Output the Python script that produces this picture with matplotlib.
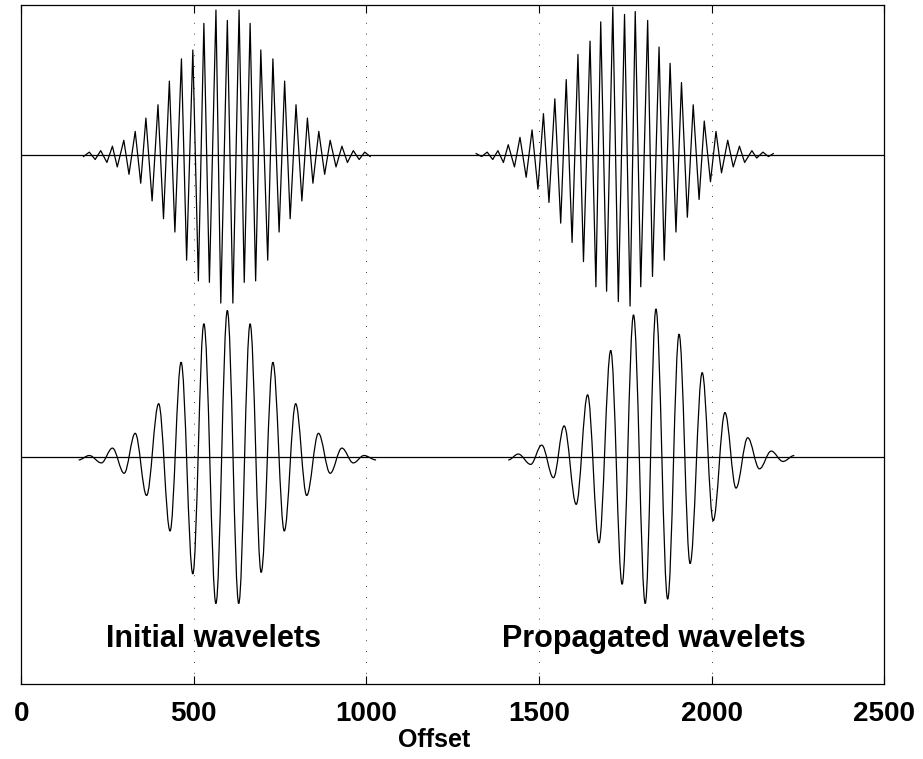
import numpy as np
import matplotlib.pyplot as plt
from matplotlib.path import Path
from matplotlib.patches import PathPatch

plt.rcParams['font.family'] = ['Liberation Sans', 'DejaVu Sans']

# Extrema (offset, amplitude), peaks and troughs in order
# Upper trace: high frequency wavelets
hi_init_x = [180, 197, 214, 230, 248, 264, 278, 297, 312, 330, 346, 361, 379, 396,
             412, 429, 445, 464, 479, 497, 513, 529, 545, 564, 578, 597, 613, 631,
             646, 663, 679, 694, 714, 729, 747, 763, 779, 796, 813, 829, 845, 862,
             879, 895, 912, 929, 945, 962, 979, 995, 1011]
hi_init_y = [-0.01, 0.02, -0.03, 0.03, -0.05, 0.06, -0.08, 0.10, -0.13, 0.16, -0.19,
             0.25, -0.31, 0.34, -0.43, 0.50, -0.52, 0.65, -0.71, 0.71, -0.85, 0.89,
             -0.86, 0.98, -1.00, 0.91, -1.00, 0.98, -0.86, 0.89, -0.85, 0.71, -0.71,
             0.65, -0.52, 0.50, -0.43, 0.34, -0.31, 0.25, -0.19, 0.16, -0.13, 0.10,
             -0.08, 0.06, -0.05, 0.03, -0.03, 0.02, -0.01]

hi_prop_x = [1318, 1334, 1350, 1366, 1381, 1397, 1411, 1429, 1445, 1463, 1480, 1497,
             1513, 1529, 1546, 1563, 1579, 1596, 1613, 1629, 1648, 1665, 1679, 1696,
             1714, 1730, 1748, 1764, 1779, 1795, 1815, 1829, 1848, 1863, 1880, 1897,
             1913, 1930, 1947, 1964, 1979, 1997, 2013, 2029, 2047, 2063, 2081, 2096,
             2117, 2131, 2149, 2165, 2179]
hi_prop_y = [0.01, -0.01, 0.02, -0.03, 0.03, -0.05, 0.07, -0.08, 0.12, -0.15, 0.17,
             -0.23, 0.28, -0.32, 0.38, -0.46, 0.51, -0.59, 0.68, -0.72, 0.77, -0.89,
             0.90, -0.92, 1.00, -0.99, 0.95, -1.02, 0.97, -0.89, 0.91, -0.82, 0.73,
             -0.71, 0.62, -0.52, 0.49, -0.42, 0.34, -0.30, 0.23, -0.18, 0.16, -0.12,
             0.10, -0.08, 0.06, -0.05, 0.03, -0.02, 0.02, -0.01, 0.01]

# Lower trace: low frequency wavelets
lo_init_x = [166, 197, 232, 264, 298, 330, 363, 398, 431, 463, 497, 529, 564, 597,
             630, 663, 695, 729, 762, 795, 827, 861, 895, 929, 962, 993, 1028]
lo_init_y = [-0.02, 0.01, -0.04, 0.06, -0.11, 0.16, -0.26, 0.36, -0.50, 0.64, -0.79,
             0.90, -0.99, 0.99, -0.99, 0.90, -0.78, 0.64, -0.50, 0.36, -0.26, 0.16,
             -0.11, 0.06, -0.04, 0.01, -0.02]

lo_prop_x = [1411, 1440, 1476, 1508, 1542, 1573, 1608, 1641, 1674, 1708, 1741, 1774,
             1808, 1839, 1873, 1906, 1938, 1973, 2005, 2039, 2071, 2105, 2139, 2173,
             2207, 2240]
lo_prop_y = [-0.02, 0.02, -0.05, 0.08, -0.14, 0.21, -0.32, 0.42, -0.58, 0.72, -0.86,
             0.96, -0.99, 1.00, -0.96, 0.83, -0.72, 0.57, -0.43, 0.30, -0.21, 0.13,
             -0.08, 0.04, -0.03, 0.01]

hi_offset = 2.04
lo_offset = 0.0
x_ticks = [0, 500, 1000, 1500, 2000, 2500]


def smooth_path(x, y, k=0.36):
    # cubic segments with flat tangents at each extremum
    verts = [(x[0], y[0])]
    codes = [Path.MOVETO]
    for i in range(len(x) - 1):
        dx = x[i + 1] - x[i]
        verts += [(x[i] + k * dx, y[i]), (x[i + 1] - k * dx, y[i + 1]), (x[i + 1], y[i + 1])]
        codes += [Path.CURVE4] * 3
    return Path(verts, codes)


fig = plt.figure(figsize=(9.23, 7.59), dpi=100)
ax = fig.add_axes([0.0231, 0.0984, 0.9347, 0.895])

# baselines
ax.axhline(hi_offset, color='k', lw=0.9)
ax.axhline(lo_offset, color='k', lw=0.9)

# upper trace
ax.plot(hi_init_x, np.array(hi_init_y) + hi_offset, color='k', lw=0.9)
ax.plot(hi_prop_x, np.array(hi_prop_y) + hi_offset, color='k', lw=0.9)

# lower trace
for xs, ys in [(lo_init_x, lo_init_y), (lo_prop_x, lo_prop_y)]:
    p = smooth_path(xs, np.array(ys) + lo_offset)
    ax.add_patch(PathPatch(p, fill=False, edgecolor='k', lw=0.9))

ax.set_xlim(0, 2500)
ax.set_ylim(-1.536, 3.054)
ax.set_xticks(x_ticks)
ax.set_xticklabels([str(t) for t in x_ticks], fontsize=20, fontweight='bold')
ax.set_yticks([])
ax.tick_params(axis='x', direction='in', length=5.5, width=0.8, top=True, pad=12)
ax.xaxis.grid(True, color='k', lw=0.6, linestyle=(0, (1, 12)))
for s in ax.spines.values():
    s.set_linewidth(0.9)

ax.set_xlabel('Offset', fontsize=18, fontweight='bold', labelpad=1)
ax.xaxis.label.set_x(0.478)

ax.text(558, -1.23, 'Initial wavelets', ha='center', va='center',
        fontsize=22, fontweight='bold')
ax.text(1834, -1.23, 'Propagated wavelets', ha='center', va='center',
        fontsize=22, fontweight='bold')

plt.savefig('out.png', dpi=100)
